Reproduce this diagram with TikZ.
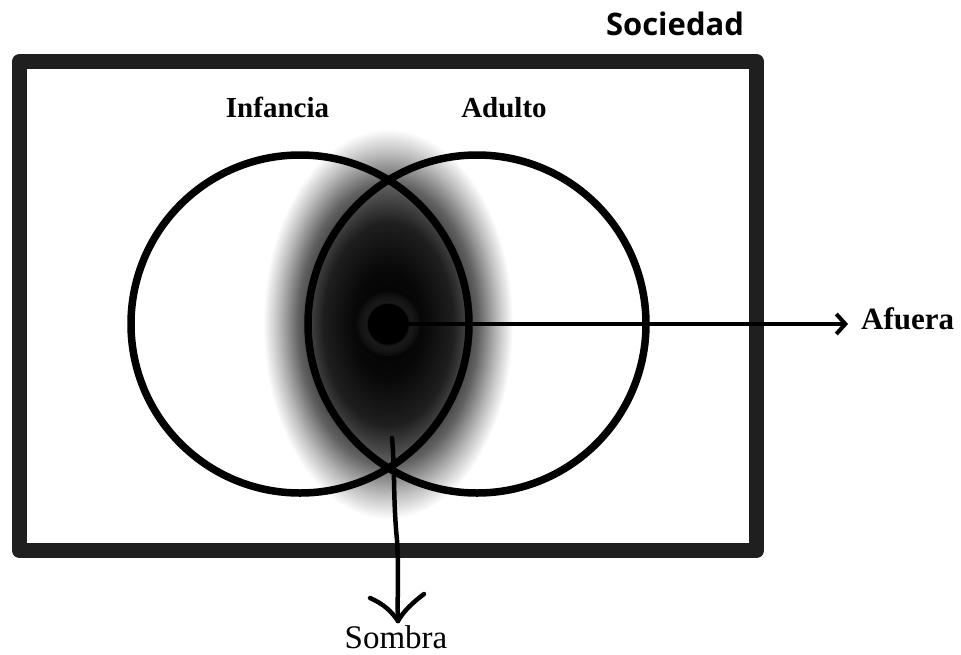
\documentclass[tikz,border=0pt]{standalone}
\usepackage{fontspec}
\setmainfont{Liberation Serif}
\newfontfamily\sansbold{Open Sans}
\usetikzlibrary{arrows.meta}
\pgfdeclareradialshading{shadowshade}{\pgfpoint{0bp}{0bp}}{color(0bp)=(black); color(7bp)=(black!97); color(13bp)=(black!88); color(18bp)=(black!62); color(22bp)=(black!25); color(25bp)=(white); color(50bp)=(white)}
\pgfdeclareradialshading{haloshade}{\pgfpoint{0bp}{0bp}}{color(0bp)=(black); color(15bp)=(black); color(17bp)=(black!90); color(21bp)=(black!92); color(25bp)=(black!96); color(50bp)=(black!96)}
\begin{document}
\begin{tikzpicture}[x=1pt,y=-1pt,
  ring/.style={circle, draw=black, line width=7.5pt, minimum size=338pt, inner sep=0pt},
  frame/.style={draw=black!88, line width=15pt, line join=round},
  lbl/.style={font=\fontsize{29}{29}\selectfont\bfseries, anchor=base, inner sep=0pt},
  hand/.style={line width=4.5pt, line cap=round, line join=round}]
\useasboundingbox (0,0) rectangle (961,654);
\shade[shading=shadowshade] (388,324) ellipse [x radius=125, y radius=195];
\shade[shading=haloshade] (388,324) circle [radius=32];
\node[ring] (inf) at (300,324) {};
\node[ring] (adu) at (477,324) {};
\draw[frame] (19.5,61.5) rectangle (756.5,550.5);
\node[circle, fill=black, minimum size=40pt, inner sep=0pt] (dot) at (388,324) {};
\node[font=\sansbold\fontsize{31}{31}\selectfont\bfseries, anchor=base, inner sep=0pt] (soc) at (675,35) {Sociedad};
\node[lbl] (infl) at (277.5,117) {Infancia};
\node[lbl] (adul) at (504,117) {Adulto};
\node[font=\fontsize{31}{31}\selectfont\bfseries, anchor=base west, inner sep=0pt] (afu) at (861,329) {Afuera};
\coordinate (tipA) at (848,324);
\draw[line width=4pt, -{Straight Barb[length=9pt, width=20pt]}] (dot.center) -- (tipA);
\node[font=\fontsize{33}{33}\selectfont, anchor=base, inner sep=0pt] (som) at (396,648) {Sombra};
\coordinate (s0) at (392,438);
\coordinate (s1) at (397,540);
\coordinate (stip) at (398,621);
\draw[hand] (s0) .. controls (395,470) and (393,500) .. (s1) .. controls (399,570) and (397,600) .. (stip);
\draw[hand] (370,598) .. controls (384,604) and (392,612) .. (stip);
\draw[hand] (424,594) .. controls (412,603) and (403,612) .. (stip);
\end{tikzpicture}
\end{document}
